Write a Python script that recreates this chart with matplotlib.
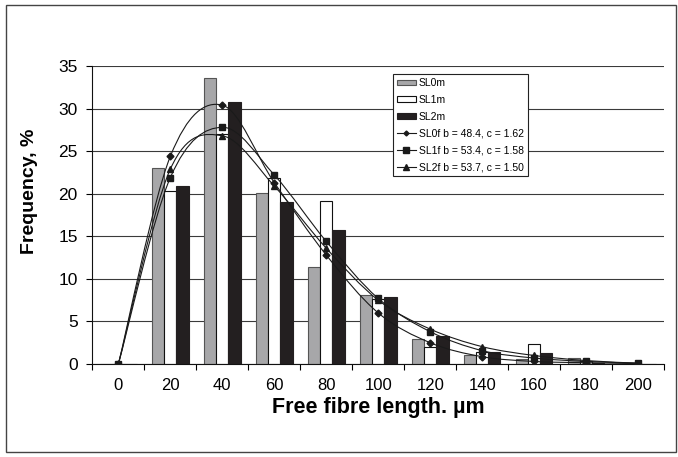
import matplotlib
matplotlib.use("Agg")
import matplotlib.pyplot as plt
import numpy as np
from matplotlib.path import Path
from matplotlib.patches import PathPatch, Rectangle, Patch
from matplotlib.lines import Line2D
from matplotlib import font_manager

categories = [0, 20, 40, 60, 80, 100, 120, 140, 160, 180, 200]
sl0m = [0, 23.0, 33.6, 20.1, 11.4, 8.1, 2.9, 1.1, 0.6, 0.7, 0]
sl1m = [0, 20.3, 27.0, 21.8, 19.1, 7.6, 2.0, 1.4, 2.3, 0.3, 0]
sl2m = [0, 20.9, 30.8, 19.0, 15.7, 7.9, 3.3, 1.45, 1.35, 0.15, 0]
sl0f = [0, 24.4, 30.4, 21.3, 12.8, 6.0, 2.5, 0.86, 0.3, 0.15, 0.05]
sl1f = [0, 21.9, 27.8, 22.2, 14.4, 7.7, 3.8, 1.57, 0.7, 0.3, 0.1]
sl2f = [0, 22.9, 26.8, 20.9, 13.6, 7.5, 4.1, 2.04, 1.0, 0.4, 0.1]
bar_labels = ["SL0m", "SL1m", "SL2m"]
line_labels = ["SL0f b = 48.4, c = 1.62", "SL1f b = 53.4, c = 1.58", "SL2f b = 53.7, c = 1.50"]
yticks = [0, 5, 10, 15, 20, 25, 30, 35]

plt.rcParams['font.family'] = ['Liberation Sans', 'DejaVu Sans']
names = {f.name for f in font_manager.fontManager.ttflist}
narrow = 'Liberation Sans Narrow' if 'Liberation Sans Narrow' in names else 'Liberation Sans'

fig = plt.figure(figsize=(6.78, 4.57), dpi=100)
ax = fig.add_axes([0.1363, 0.2035, 0.9794 - 0.1363, 0.8556 - 0.2035])

x = np.arange(len(categories))
w = 0.235
ax.bar(x - w, sl0m, w, color='#a7a7a9', edgecolor='#555555', linewidth=0.8, zorder=2)
ax.bar(x, sl1m, w, color='white', edgecolor='#111111', linewidth=0.8, zorder=2)
ax.bar(x + w, sl2m, w, color='#231f20', edgecolor='#231f20', linewidth=0.8, zorder=2)


def smooth_path(xs, ys):
    pts = np.column_stack([xs, ys]).astype(float)
    n = len(pts)
    verts = [pts[0]]
    codes = [Path.MOVETO]
    for i in range(n - 1):
        p0 = pts[i - 1] if i > 0 else pts[i]
        p1 = pts[i]
        p2 = pts[i + 1]
        p3 = pts[i + 2] if i + 2 < n else pts[i + 1]
        c1 = p1 + (p2 - p0) / 6.0
        c2 = p2 - (p3 - p1) / 6.0
        verts += [c1, c2, p2]
        codes += [Path.CURVE4] * 3
    return Path(verts, codes)


markers = ['D', 's', '^']
msizes = [3.5, 5, 5]
for ys, m, ms in zip([sl0f, sl1f, sl2f], markers, msizes):
    ax.add_patch(PathPatch(smooth_path(x, ys), facecolor='none', edgecolor='#1a1a1a',
                           linewidth=0.8, zorder=3))
    ax.plot(x, ys, linestyle='none', marker=m, markersize=ms, color='#1a1a1a', zorder=4)

ax.set_xlim(-0.5, len(categories) - 0.5)
ax.set_ylim(0, 35)
ax.set_yticks(yticks)
ax.set_yticklabels([str(v) for v in yticks], fontsize=12.5)
ax.set_xticks(x)
ax.set_xticklabels([str(c) for c in categories], fontsize=12, family=[narrow, 'DejaVu Sans'])
ax.set_xticks(np.arange(len(categories) + 1) - 0.5, minor=True)
ax.tick_params(axis='x', which='major', length=0, pad=10)
ax.tick_params(axis='x', which='minor', length=4, width=0.8, direction='out')
ax.tick_params(axis='y', which='major', length=4.5, width=0.8, direction='out', pad=6)
ax.yaxis.grid(True, color='#3a3a3a', linewidth=0.8)
ax.set_axisbelow(True)
for s in ['top', 'right']:
    ax.spines[s].set_visible(False)
for s in ['left', 'bottom']:
    ax.spines[s].set_linewidth(0.8)
    ax.spines[s].set_color('#111111')

fig.text(30 / 678, 1 - 191 / 457, 'Frequency, %', rotation=90, ha='center', va='center',
         fontsize=14, fontweight='bold')
fig.text(378 / 678, 1 - 408 / 457, 'Free fibre length. µm', ha='center', va='center',
         fontsize=15.5, fontweight='bold')

handles = [Patch(facecolor='#a7a7a9', edgecolor='#555555', linewidth=0.8),
           Patch(facecolor='white', edgecolor='#111111', linewidth=0.8),
           Patch(facecolor='#231f20', edgecolor='#231f20', linewidth=0.8)]
for m, ms in zip(markers, msizes):
    handles.append(Line2D([], [], color='#1a1a1a', linewidth=0.8, marker=m, markersize=ms - 1))
leg = fig.legend(handles, bar_labels + line_labels, loc='upper left',
                 bbox_to_anchor=(392.7 / 678, 1 - 74 / 457), fontsize=7.5,
                 frameon=True, fancybox=False, shadow=False, framealpha=1,
                 edgecolor='#222222', handlelength=1.8, handleheight=0.5,
                 labelspacing=0.65, handletextpad=0.3, borderpad=0.4, borderaxespad=0)
leg.get_frame().set_linewidth(0.8)

fig.patches.append(Rectangle((6 / 678, 5 / 457), (676 - 6) / 678, (452 - 5) / 457,
                             transform=fig.transFigure, fill=False, edgecolor='#444444',
                             linewidth=1.0))

fig.savefig('out.png', dpi=100)
